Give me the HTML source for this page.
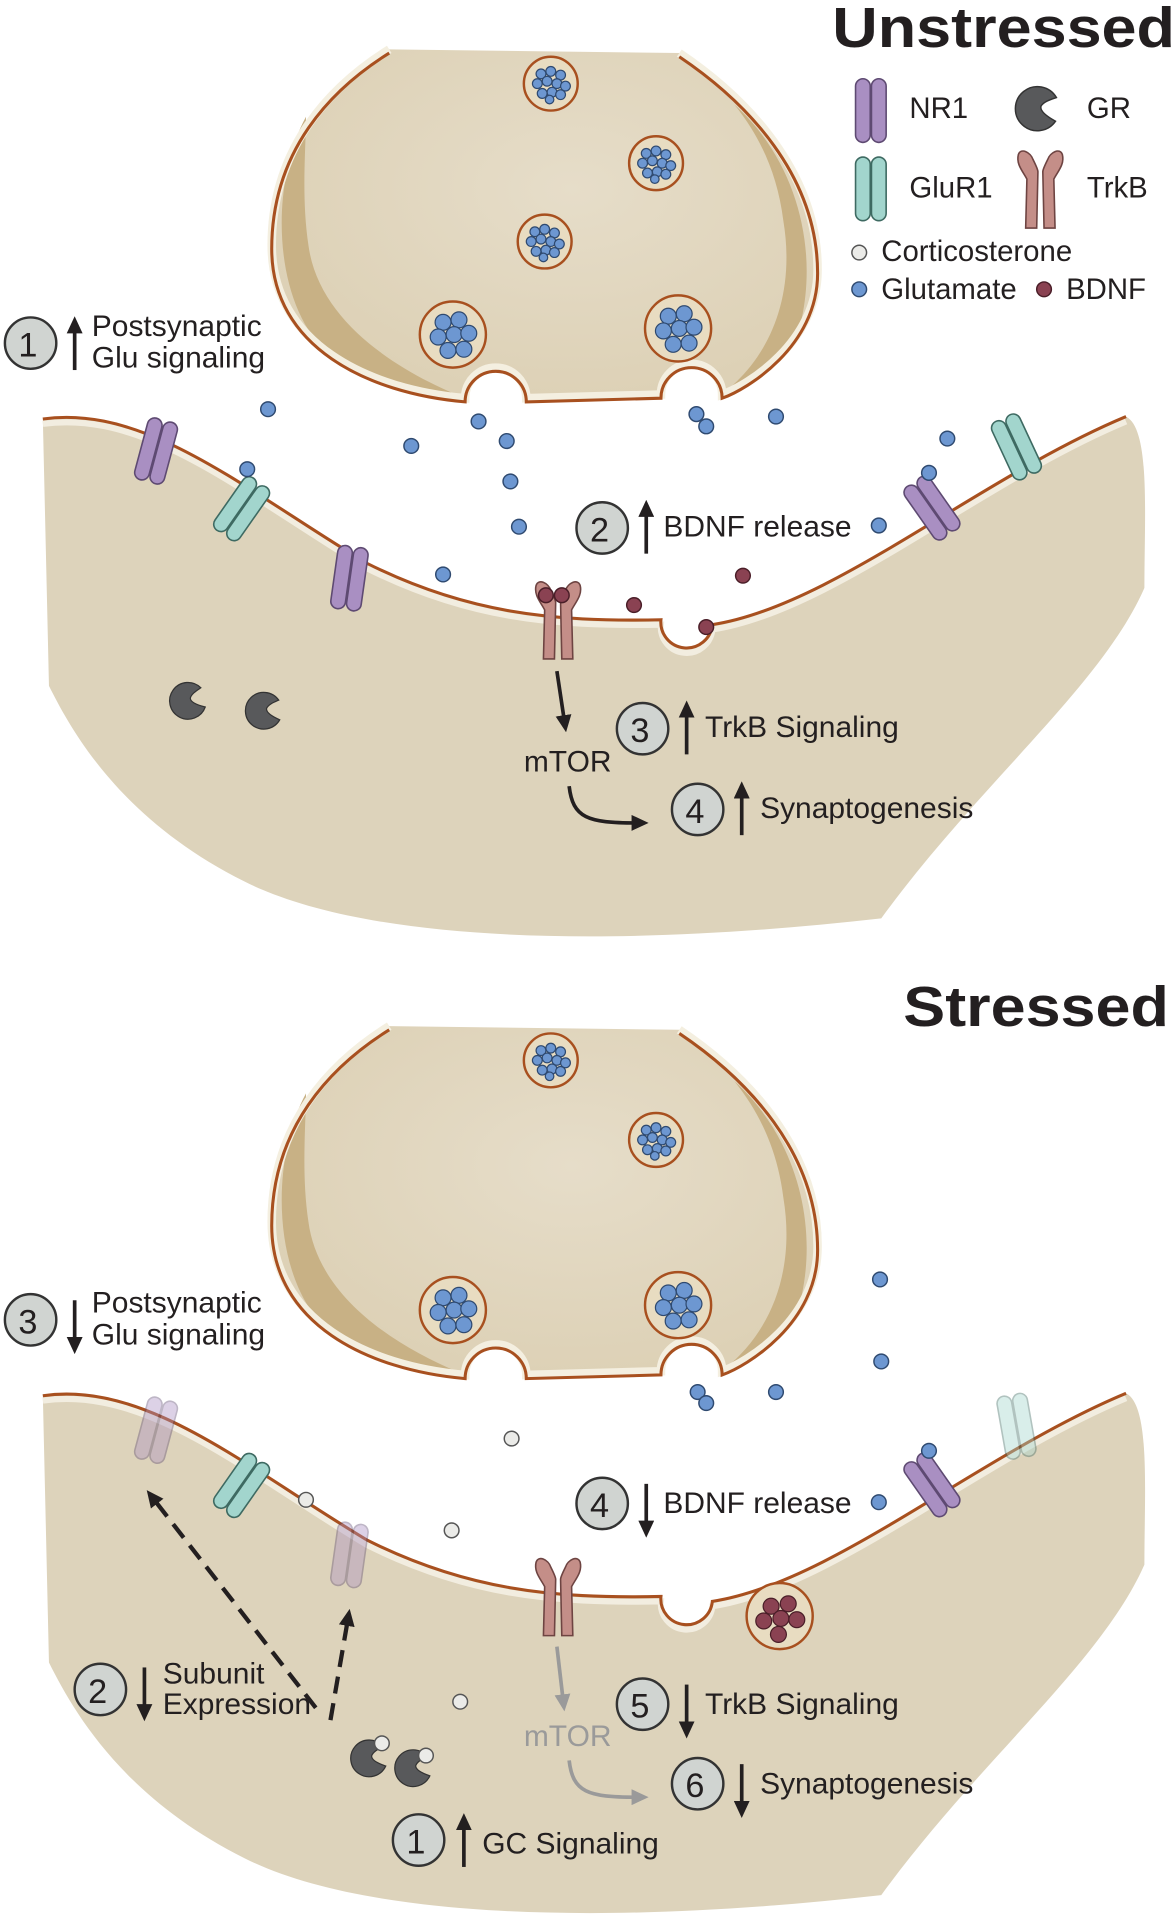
<!DOCTYPE html>
<html><head><meta charset="utf-8"><style>
html,body{margin:0;padding:0;background:#fff;}
svg{display:block;}
text{font-family:"Liberation Sans",sans-serif;fill:#231f20;}
</style></head><body>
<svg width="1175" height="1920" viewBox="0 0 960 1568" xmlns="http://www.w3.org/2000/svg">
<defs>
<radialGradient id="pg" cx="0.55" cy="0.4" r="0.6"><stop offset="0" stop-color="#e6ddc9"/><stop offset="1" stop-color="#ddd1b6"/></radialGradient>
<g id="nr1"><rect x="-12" y="-26" width="12" height="52" rx="6" fill="#a98fc2" stroke="#5e4a72" stroke-width="1.3"/><rect x="1" y="-26" width="12" height="52" rx="6" fill="#a98fc2" stroke="#5e4a72" stroke-width="1.3"/></g>
<g id="glur"><rect x="-12" y="-26" width="12" height="52" rx="6" fill="#a2d5cd" stroke="#3e6a62" stroke-width="1.3"/><rect x="1" y="-26" width="12" height="52" rx="6" fill="#a2d5cd" stroke="#3e6a62" stroke-width="1.3"/></g>
<g id="trkb" fill="#c48e88" stroke="#6e4442" stroke-width="1.3"><path d="M-2,-8 L-3,38 L-12,38 L-11,-2 C-14,-8 -20,-14 -18,-22 C-16,-28 -8,-24 -6,-18 C-4,-14 -2,-10 -2,-8Z"/><path d="M2,-8 L3,38 L12,38 L11,-2 C14,-8 20,-14 18,-22 C16,-28 8,-24 6,-18 C4,-14 2,-10 2,-8Z"/></g>
<g id="gr"><path d="M14,-6 A15,15 0 1 0 12,10 C6,6 2,2 3,-1 C5,-4 10,-5 14,-6Z" fill="#58595b" stroke="#333" stroke-width="1"/></g>
<circle id="glu" r="6" fill="#6d97d1" stroke="#2f4a70" stroke-width="1.2"/>
<circle id="bd" r="6" fill="#8a4252" stroke="#4a1e28" stroke-width="1.2"/>
<circle id="cort" r="6" fill="#ebebe8" stroke="#555" stroke-width="1.2"/>
<g id="ves1"><circle r="22" fill="#e8dcc1" stroke="#a8501f" stroke-width="2"/>
<g fill="#6d97d1" stroke="#2f4a70" stroke-width="1"><circle cx="-8" cy="-8" r="4"/><circle cx="0" cy="-10" r="4"/><circle cx="8" cy="-7" r="4"/><circle cx="-11" cy="0" r="4"/><circle cx="-3" cy="-2" r="4"/><circle cx="5" cy="0" r="4"/><circle cx="12" cy="2" r="4"/><circle cx="-7" cy="8" r="4"/><circle cx="1" cy="7" r="4"/><circle cx="8" cy="9" r="4"/><circle cx="-1" cy="13" r="3.5"/></g></g>
<g id="ves2"><circle r="27" fill="#e8dcc1" stroke="#a8501f" stroke-width="2"/>
<g fill="#6d97d1" stroke="#2f4a70" stroke-width="1"><circle cx="-8" cy="-10" r="6.5"/><circle cx="5" cy="-12" r="6.5"/><circle cx="-12" cy="2" r="6.5"/><circle cx="1" cy="0" r="6.5"/><circle cx="13" cy="-1" r="6.5"/><circle cx="-4" cy="13" r="6.5"/><circle cx="9" cy="12" r="6.5"/></g></g>
<g id="pre">
<path d="M318,40 L555,43 C610,80 668,140 668,220 C668,280 610,315 590,322 A24,24 0 0 0 540,322 L430,325 A24,24 0 0 0 380,325 C300,318 222,280 222,200 C222,120 270,70 318,40Z" fill="url(#pg)"/>
<path d="M250,95 C220,150 222,250 270,290 C300,310 340,320 375,323 C320,300 260,260 252,200 C246,160 250,120 250,95Z" fill="#c8b185"/>
<path d="M600,85 C650,130 668,200 655,260 C640,300 610,315 592,320 C630,290 650,240 640,180 C635,140 620,110 600,85Z" fill="#c8b185"/>
<path d="M555,43 C610,80 668,140 668,220 C668,280 610,315 590,322 A24,24 0 0 0 540,322 L430,325 A24,24 0 0 0 380,325 C300,318 222,280 222,200 C222,120 270,70 318,40" fill="none" stroke="#f4efe0" stroke-width="7"/>
<path d="M555,43 C610,80 668,140 668,220 C668,280 610,315 590,322 A24,24 0 0 0 540,322 L430,325 A24,24 0 0 0 380,325 C300,318 222,280 222,200 C222,120 270,70 318,40" fill="none" stroke="#a8501f" stroke-width="2.5" transform="translate(0,3)"/>
</g>
<g id="post">
<path d="M35,342 C120,330 200,400 300,460 C380,500 450,508 540,506 A20,20 0 0 0 582,510 C680,495 800,390 920,340 C940,350 935,420 935,480 C900,560 800,640 720,750 C500,775 300,770 200,720 C100,670 60,600 40,560 Z" fill="#ddd3bb"/>
<path d="M35,342 C120,330 200,400 300,460 C380,500 450,508 540,506 A20,20 0 0 0 582,510 C680,495 800,390 920,340" fill="none" stroke="#f2ede0" stroke-width="5" transform="translate(0,4)"/>
<path d="M35,342 C120,330 200,400 300,460 C380,500 450,508 540,506 A20,20 0 0 0 582,510 C680,495 800,390 920,340" fill="none" stroke="#a8501f" stroke-width="2.5"/>
</g>
<marker id="ah" markerUnits="userSpaceOnUse" markerWidth="14" markerHeight="13" refX="4" refY="6.5" orient="auto"><path d="M0,0 L14,6.5 L0,13Z" fill="#231f20"/></marker>
<marker id="ahg" markerUnits="userSpaceOnUse" markerWidth="14" markerHeight="13" refX="4" refY="6.5" orient="auto"><path d="M0,0 L14,6.5 L0,13Z" fill="#9a9a9a"/></marker>
</defs>

<!-- ============ UNSTRESSED ============ -->
<use href="#pre"/>
<use href="#post"/>
<use href="#ves1" x="450" y="68"/><use href="#ves1" x="536" y="133"/><use href="#ves1" x="445" y="197"/>
<use href="#ves2" x="370" y="273"/><use href="#ves2" x="554" y="268"/>
<use href="#nr1" transform="translate(127,368) rotate(15)"/>
<use href="#glur" transform="translate(197,415) rotate(35)"/>
<use href="#nr1" transform="translate(285,472) rotate(8)"/>
<use href="#trkb" transform="translate(456,500)"/>
<use href="#bd" x="446" y="486"/><use href="#bd" x="459" y="486"/>
<use href="#nr1" transform="translate(761,415) rotate(-35)"/>
<use href="#glur" transform="translate(830,365) rotate(-25)"/>
<g>
<use href="#glu" x="202" y="383"/><use href="#glu" x="219" y="334"/><use href="#glu" x="336" y="364"/><use href="#glu" x="391" y="344"/><use href="#glu" x="414" y="360"/><use href="#glu" x="417" y="393"/><use href="#glu" x="424" y="430"/><use href="#glu" x="362" y="469"/><use href="#glu" x="569" y="338"/><use href="#glu" x="577" y="348"/><use href="#glu" x="634" y="340"/><use href="#glu" x="774" y="358"/><use href="#glu" x="718" y="429"/><use href="#glu" x="759" y="386"/>
<use href="#bd" x="518" y="494"/><use href="#bd" x="607" y="470"/><use href="#bd" x="577" y="512"/>
</g>
<use href="#gr" transform="translate(153,572) rotate(-20)"/>
<use href="#gr" transform="translate(215,580) rotate(-10)"/>

<text x="680" y="38" font-size="46" font-weight="bold" textLength="280" lengthAdjust="spacingAndGlyphs">Unstressed</text>
<!-- legend -->
<g font-size="24">
<use href="#nr1" transform="translate(711,90)"/>
<text x="743" y="96">NR1</text>
<use href="#gr" transform="translate(847,88) rotate(-5) scale(1.2)"/>
<text x="888" y="96">GR</text>
<use href="#glur" transform="translate(711,154)"/>
<text x="743" y="161">GluR1</text>
<use href="#trkb" transform="translate(850,148)"/>
<text x="888" y="161">TrkB</text>
<use href="#cort" x="702" y="206"/><text x="720" y="213">Corticosterone</text>
<use href="#glu" x="702" y="236"/><text x="720" y="244">Glutamate</text>
<use href="#bd" x="853" y="236"/><text x="871" y="244">BDNF</text>
</g>

<g font-size="24.5">
<circle cx="25" cy="280" r="21" fill="#d0d4d1" stroke="#333" stroke-width="2"/><text x="15" y="291" font-size="28">1</text>
<line x1="61" y1="302" x2="61" y2="268" stroke="#231f20" stroke-width="3" marker-end="url(#ah)"/>
<text x="75" y="274">Postsynaptic</text><text x="75" y="300">Glu signaling</text>

<circle cx="492" cy="431" r="21" fill="#d0d4d1" stroke="#333" stroke-width="2"/><text x="482" y="442" font-size="28">2</text>
<line x1="528" y1="452" x2="528" y2="418" stroke="#231f20" stroke-width="3" marker-end="url(#ah)"/>
<text x="542" y="438">BDNF release</text>

<line x1="455" y1="548" x2="461" y2="588" stroke="#231f20" stroke-width="3" marker-end="url(#ah)"/>
<text x="428" y="630">mTOR</text>
<path d="M465,642 C468,668 480,672 520,672" fill="none" stroke="#231f20" stroke-width="3" marker-end="url(#ah)"/>

<circle cx="525" cy="595" r="21" fill="#d0d4d1" stroke="#333" stroke-width="2"/><text x="515" y="606" font-size="28">3</text>
<line x1="561" y1="616" x2="561" y2="582" stroke="#231f20" stroke-width="3" marker-end="url(#ah)"/>
<text x="576" y="602">TrkB Signaling</text>

<circle cx="570" cy="661" r="21" fill="#d0d4d1" stroke="#333" stroke-width="2"/><text x="560" y="672" font-size="28">4</text>
<line x1="606" y1="682" x2="606" y2="648" stroke="#231f20" stroke-width="3" marker-end="url(#ah)"/>
<text x="621" y="668">Synaptogenesis</text>
</g>

<!-- ============ STRESSED ============ -->
<g transform="translate(0,798)">
<use href="#pre"/>
<use href="#post"/>
<use href="#ves1" x="450" y="68"/><use href="#ves1" x="536" y="133"/>
<use href="#ves2" x="370" y="272"/><use href="#ves2" x="554" y="268"/>
<g opacity="0.4"><use href="#nr1" transform="translate(127,370) rotate(15)"/></g>
<use href="#glur" transform="translate(197,415) rotate(35)"/>
<g opacity="0.4"><use href="#nr1" transform="translate(285,472) rotate(8)"/></g>
<use href="#trkb" transform="translate(456,500)"/>
<use href="#nr1" transform="translate(761,415) rotate(-35)"/>
<g opacity="0.4"><use href="#glur" transform="translate(830,367) rotate(-10)"/></g>
<circle cx="637" cy="522" r="27" fill="#e8dcc1" stroke="#a8501f" stroke-width="2"/>
<g fill="#8a4252" stroke="#4a1e28" stroke-width="1"><circle cx="630" cy="514" r="6.5"/><circle cx="644" cy="512" r="6.5"/><circle cx="624" cy="526" r="6.5"/><circle cx="638" cy="524" r="6.5"/><circle cx="651" cy="525" r="6.5"/><circle cx="636" cy="537" r="6.5"/></g>
<use href="#glu" x="570" y="339"/><use href="#glu" x="577" y="348"/><use href="#glu" x="634" y="339"/><use href="#glu" x="719" y="247"/><use href="#glu" x="720" y="314"/><use href="#glu" x="718" y="429"/><use href="#glu" x="759" y="387"/>
<use href="#cort" x="418" y="377"/><use href="#cort" x="250" y="427"/><use href="#cort" x="369" y="452"/><use href="#cort" x="376" y="592"/>
<use href="#gr" transform="translate(301,638) rotate(-15)"/><use href="#cort" x="312" y="626"/>
<use href="#gr" transform="translate(337,646) rotate(-15)"/><use href="#cort" x="348" y="636"/>
</g>

<text x="738" y="838" font-size="46" font-weight="bold" textLength="217" lengthAdjust="spacingAndGlyphs">Stressed</text>

<g font-size="24.5">
<circle cx="25" cy="1078" r="21" fill="#d0d4d1" stroke="#333" stroke-width="2"/><text x="15" y="1089" font-size="28">3</text>
<line x1="61" y1="1062" x2="61" y2="1096" stroke="#231f20" stroke-width="3" marker-end="url(#ah)"/>
<text x="75" y="1072">Postsynaptic</text><text x="75" y="1098">Glu signaling</text>

<circle cx="492" cy="1228" r="21" fill="#d0d4d1" stroke="#333" stroke-width="2"/><text x="482" y="1239" font-size="28">4</text>
<line x1="528" y1="1212" x2="528" y2="1246" stroke="#231f20" stroke-width="3" marker-end="url(#ah)"/>
<text x="542" y="1236">BDNF release</text>

<circle cx="82" cy="1380" r="21" fill="#d0d4d1" stroke="#333" stroke-width="2"/><text x="72" y="1391" font-size="28">2</text>
<line x1="118" y1="1362" x2="118" y2="1396" stroke="#231f20" stroke-width="3" marker-end="url(#ah)"/>
<text x="133" y="1375">Subunit</text><text x="133" y="1400">Expression</text>
<line x1="258" y1="1395" x2="126" y2="1225" stroke="#231f20" stroke-width="3.5" stroke-dasharray="14,8" marker-end="url(#ah)"/>
<line x1="270" y1="1405" x2="284" y2="1324" stroke="#231f20" stroke-width="3.5" stroke-dasharray="14,8" marker-end="url(#ah)"/>

<line x1="455" y1="1345" x2="460" y2="1388" stroke="#9a9a9a" stroke-width="3" marker-end="url(#ahg)"/>
<text x="428" y="1426" style="fill:#9a9a9a">mTOR</text>
<path d="M465,1438 C468,1464 480,1468 520,1468" fill="none" stroke="#9a9a9a" stroke-width="3" marker-end="url(#ahg)"/>

<circle cx="525" cy="1392" r="21" fill="#d0d4d1" stroke="#333" stroke-width="2"/><text x="515" y="1403" font-size="28">5</text>
<line x1="561" y1="1376" x2="561" y2="1410" stroke="#231f20" stroke-width="3" marker-end="url(#ah)"/>
<text x="576" y="1400">TrkB Signaling</text>

<circle cx="570" cy="1457" r="21" fill="#d0d4d1" stroke="#333" stroke-width="2"/><text x="560" y="1468" font-size="28">6</text>
<line x1="606" y1="1441" x2="606" y2="1475" stroke="#231f20" stroke-width="3" marker-end="url(#ah)"/>
<text x="621" y="1465">Synaptogenesis</text>

<circle cx="342" cy="1503" r="21" fill="#d0d4d1" stroke="#333" stroke-width="2"/><text x="332" y="1514" font-size="28">1</text>
<line x1="379" y1="1525" x2="379" y2="1491" stroke="#231f20" stroke-width="3" marker-end="url(#ah)"/>
<text x="394" y="1514">GC Signaling</text>
</g>
</svg>
</body></html>
